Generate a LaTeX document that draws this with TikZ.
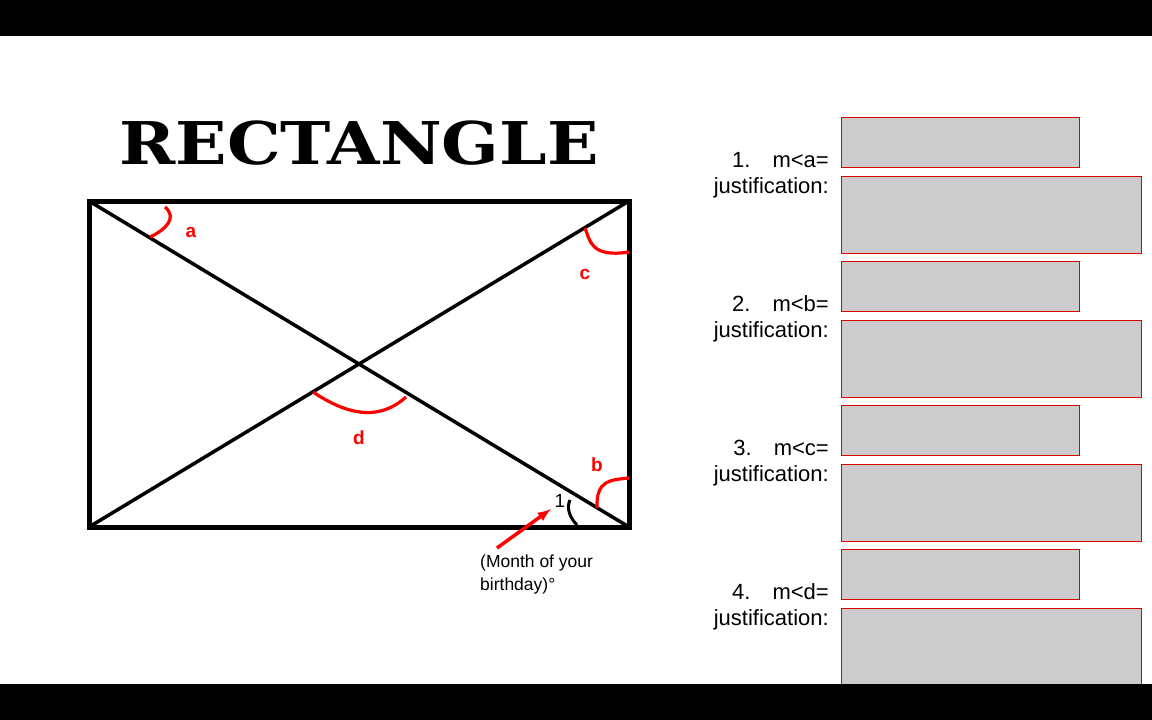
\documentclass[tikz,border=0pt]{standalone}
\usepackage{fontspec}
\setmainfont{Liberation Sans}
\newfontfamily\titlefont{DejaVu Serif}
\begin{document}
\begin{tikzpicture}[x=1pt,y=-1pt,
  ans/.style={draw=red!85!black,fill=black!20,line width=0.8pt},
  lbl/.style={text=red,font=\fontsize{19}{19}\selectfont\bfseries},
  txt/.style={font=\fontsize{22}{22}\selectfont,anchor=east,inner sep=0pt},
  ang/.style={red,line width=3.2pt}]
\useasboundingbox (0,0) rectangle (1152,720);
\fill[black] (0,0) rectangle (1152,36);
\node (title) at (359,143) {\titlefont\bfseries\fontsize{62}{62}\selectfont\scalebox{1.09}[0.95]{RECTANGLE}};
\coordinate (A) at (89,201); \coordinate (B) at (629,201);
\coordinate (C) at (629,527); \coordinate (D) at (89,527);
\draw[line width=5pt] (A) rectangle (C);
\draw[line width=3.5pt] (A) -- (C) (D) -- (B);
\draw[ang] (165,207) .. controls (178,218) and (165,230) .. (150,237);
\draw[ang] (585,228) .. controls (590,240) and (590,258) .. (629,252);
\draw[ang] (313,392) .. controls (340,410) and (375,425) .. (406,397);
\draw[ang] (597,508) .. controls (596,480) and (610,480) .. (629,478);
\draw[line width=3pt] (570,500) .. controls (566,508) and (570,518) .. (577,525);
\node[lbl] (la) at (191,232) {a};
\node[lbl] (lc) at (585,274) {c};
\node[lbl] (ld) at (359,438) {d};
\node[lbl] (lb) at (597,465) {b};
\node[font=\fontsize{19}{19}\selectfont] (one) at (560,501) {1};
\coordinate (arrs) at (497,548);
\coordinate (arre) at (551,509);
\draw[red,line width=3.5pt,-latex] (arrs) -- (arre);
\node[font=\fontsize{17.5}{23}\selectfont,align=left,anchor=north west,inner sep=0pt] (month) at (480,555) {(Month of your\\birthday)°};
\foreach \i/\l in {0/a,1/b,2/c,3/d}{
  \node[txt] (q\l) at (829,160+144*\i) {\the\numexpr\i+1\relax.\hspace{22pt}m<\l=};
  \node[txt] (j\l) at (829,188+144*\i) {justification:};
  \draw[ans] (841,117+144*\i) rectangle (1079,167+144*\i);
  \draw[ans] (841,176+144*\i) rectangle (1141,253+144*\i);
}
\fill[black] (0,684) rectangle (1152,720);
\end{tikzpicture}
\end{document}
